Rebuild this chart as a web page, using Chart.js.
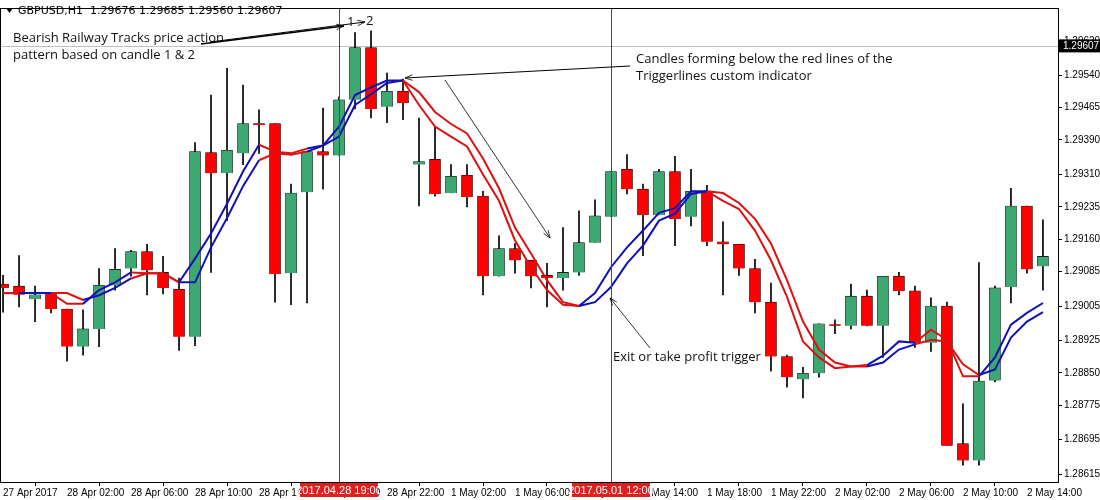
<!DOCTYPE html>
<html>
<head>
<meta charset="utf-8">
<script src="https://cdn.jsdelivr.net/npm/chart.js@4/dist/chart.umd.min.js"></script>
<style>
  html,body{margin:0;padding:0;background:#fff;}
  #wrap{width:1100px;height:500px;position:relative;}
</style>
</head>
<body>
<div id="wrap"><canvas id="chart" width="1100" height="500"></canvas></div>
<script>
// ==== Data (GBPUSD H1) ====
const times = ['27 Apr 2017','27 Apr 23:00','28 Apr 00:00','28 Apr 01:00','28 Apr 02:00','28 Apr 03:00','28 Apr 04:00','28 Apr 05:00',
  '28 Apr 06:00','28 Apr 07:00','28 Apr 08:00','28 Apr 09:00','28 Apr 10:00','28 Apr 11:00','28 Apr 12:00','28 Apr 13:00',
  '28 Apr 14:00','28 Apr 15:00','28 Apr 16:00','28 Apr 17:00','28 Apr 18:00','28 Apr 19:00','28 Apr 20:00','28 Apr 21:00',
  '28 Apr 22:00','28 Apr 23:00','1 May 00:00','1 May 01:00','1 May 02:00','1 May 03:00','1 May 04:00','1 May 05:00',
  '1 May 06:00','1 May 07:00','1 May 08:00','1 May 09:00','1 May 10:00','1 May 11:00','1 May 12:00','1 May 13:00',
  '1 May 14:00','1 May 15:00','1 May 16:00','1 May 17:00','1 May 18:00','1 May 19:00','1 May 20:00','1 May 21:00',
  '1 May 22:00','1 May 23:00','2 May 00:00','2 May 01:00','2 May 02:00','2 May 03:00','2 May 04:00','2 May 05:00',
  '2 May 06:00','2 May 07:00','2 May 08:00','2 May 09:00','2 May 10:00','2 May 11:00','2 May 12:00','2 May 13:00',
  '2 May 14:00','2 May 15:00'];

const opens = [1.29056,1.29051,1.29021,1.29035,1.28998,1.28911,1.28952,1.29053,1.29092,1.29131,1.29083,1.29044,1.28934,1.29361,1.29313,1.29359,
  1.29428,1.29428,1.29081,1.29269,1.29363,1.29354,1.29483,1.29604,1.29467,1.29503,1.29333,1.29345,1.29267,1.29308,1.29260,1.29074,
  1.29138,1.29111,1.29076,1.29070,1.29083,1.29152,1.29212,1.29322,1.29276,1.29216,1.29317,1.29212,1.29271,1.29154,1.29148,1.29092,
  1.29014,1.28888,1.28835,1.28849,1.28962,1.28959,1.29028,1.28959,1.29074,1.29040,1.28920,1.29005,1.28686,1.28647,1.28833,1.29049,
  1.29237,1.29097];
const highs = [1.29076,1.29122,1.29051,1.29035,1.28998,1.28996,1.29092,1.29138,1.29134,1.29148,1.29120,1.29070,1.29384,1.29494,1.29556,1.29517,
  1.29460,1.29428,1.29288,1.29363,1.29464,1.29490,1.29639,1.29643,1.29545,1.29531,1.29441,1.29421,1.29333,1.29333,1.29271,1.29168,
  1.29150,1.29111,1.29104,1.29187,1.29226,1.29251,1.29317,1.29356,1.29288,1.29322,1.29352,1.29322,1.29285,1.29200,1.29148,1.29113,
  1.29058,1.28891,1.28863,1.28964,1.28973,1.29056,1.29042,1.29074,1.29083,1.29051,1.29024,1.29014,1.28778,1.29106,1.29051,1.29278,
  1.29237,1.29205];
const lows = [1.28991,1.29003,1.28969,1.28989,1.28877,1.28891,1.28911,1.29042,1.29074,1.29031,1.29033,1.28902,1.28913,1.29083,1.29203,1.29333,
  1.29359,1.29014,1.29008,1.29012,1.29276,1.29354,1.29462,1.29441,1.29430,1.29437,1.29237,1.29260,1.29267,1.29235,1.29031,1.29074,
  1.29081,1.29047,1.29003,1.29042,1.29076,1.29152,1.29212,1.29265,1.29122,1.29216,1.29145,1.29191,1.29145,1.29031,1.29076,1.28989,
  1.28854,1.28817,1.28792,1.28840,1.28941,1.28952,1.28959,1.28886,1.29031,1.28909,1.28900,1.28682,1.28636,1.28636,1.28829,1.29012,
  1.29081,1.29042];
const closes = [1.29047,1.29031,1.29031,1.28998,1.28911,1.28952,1.29053,1.29090,1.29131,1.29088,1.29047,1.28934,1.29363,1.29313,1.29366,1.29428,
  1.29425,1.29079,1.29267,1.29363,1.29354,1.29483,1.29604,1.29462,1.29503,1.29476,1.29340,1.29265,1.29306,1.29258,1.29074,1.29138,
  1.29111,1.29074,1.29070,1.29083,1.29152,1.29214,1.29317,1.29276,1.29216,1.29317,1.29207,1.29271,1.29154,1.29148,1.29092,1.29014,
  1.28888,1.28840,1.28849,1.28964,1.28959,1.29028,1.28959,1.29074,1.29040,1.28920,1.29005,1.28682,1.28647,1.28831,1.29047,1.29237,
  1.29090,1.29120];

// Triggerlines indicator (fast / slow) and trend state per bar
const trigFast = [1.29035,1.29035,1.29035,1.29035,1.29010,1.29010,1.29042,1.29060,1.29083,1.29081,1.29081,1.29060,1.29115,1.29173,1.29242,1.29317,
  1.29379,1.29363,1.29359,1.29370,1.29377,1.29421,1.29494,1.29512,1.29528,1.29528,1.29471,1.29421,1.29398,1.29375,1.29310,1.29249,
  1.29157,1.29095,1.29042,1.29008,1.29005,1.29035,1.29095,1.29141,1.29180,1.29221,1.29232,1.29271,1.29271,1.29249,1.29230,1.29180,
  1.29111,1.29026,1.28923,1.28886,1.28861,1.28865,1.28868,1.28890,1.28923,1.28920,1.28950,1.28927,1.28842,1.28842,1.28886,1.28962,
  1.28989,1.29012];
const trigSlow = [1.29035,1.29035,1.29035,1.29035,1.29035,1.29019,1.29030,1.29047,1.29069,1.29081,1.29081,1.29060,1.29060,1.29141,1.29209,1.29283,
  1.29343,1.29359,1.29356,1.29363,1.29377,1.29398,1.29471,1.29496,1.29522,1.29528,1.29501,1.29455,1.29427,1.29405,1.29347,1.29278,
  1.29187,1.29127,1.29065,1.29014,1.29005,1.29014,1.29049,1.29104,1.29145,1.29203,1.29219,1.29265,1.29271,1.29267,1.29244,1.29207,
  1.29150,1.29065,1.28969,1.28904,1.28874,1.28865,1.28865,1.28874,1.28904,1.28916,1.28927,1.28923,1.28870,1.28845,1.28858,1.28932,
  1.28969,1.28991];
const trend = 'dduudduuudddu uuuudddu uuuuuddddddddddduuuuuuuudddddddddduuudddduuuu'.replace(/ /g,'');

const priceTicks = [1.29620,1.29540,1.29465,1.29390,1.29310,1.29235,1.29160,1.29085,1.29005,1.28925,1.28850,1.28775,1.28695,1.28615];
const lastPrice = 1.29607;
const markers = [21, 38];
const markerLabels = ['2017.04.28 19:00', '2017.05.01 12:00'];

const GREEN = '#3ea872', RED = '#ff0000', BLUE = '#1010b8', LRED = '#e01010';
const AXFONT = '"Liberation Sans", Arial, sans-serif';

const bodies = opens.map((o,i)=>({x:i, y:[o, closes[i]===o ? o+0.00002 : closes[i]]}));
const wicks = opens.map((o,i)=>({x:i, y:[lows[i], highs[i]]}));
const bodyCol = opens.map((o,i)=> closes[i] >= o ? GREEN : RED);
const segCol = ctx => trend[ctx.p1DataIndex] === 'u' ? BLUE : LRED;

// ==== overlay plugin: header, markers, annotations ====
const overlay = {
  id:'overlay',
  beforeDatasetsDraw(chart){
    const {ctx, chartArea:a, scales:{y}} = chart;
    ctx.save();
    const ly = y.getPixelForValue(lastPrice);
    ctx.strokeStyle = '#c0c0c0'; ctx.lineWidth = 1;
    ctx.beginPath(); ctx.moveTo(a.left, Math.round(ly)+0.5); ctx.lineTo(a.right, Math.round(ly)+0.5); ctx.stroke();
    ctx.restore();
  },
  afterDraw(chart){
    const {ctx, chartArea:a, scales:{x,y}} = chart;
    ctx.save();
    ctx.strokeStyle = '#000'; ctx.lineWidth = 1;
    ctx.strokeRect(a.left+0.5, a.top+0.5, a.right-a.left, a.bottom-a.top);
    // red vertical markers
    ctx.fillStyle = '#ff0000';
    markers.forEach(m => {
      const px = Math.round(x.getPixelForValue(m));
      ctx.fillRect(px, a.top+1, 1, a.bottom-a.top-1);
    });
    // marker labels on time axis
    ctx.font = '11px ' + AXFONT; ctx.textBaseline = 'middle'; ctx.textAlign = 'center';
    markers.forEach((m,k) => {
      const px = x.getPixelForValue(m);
      ctx.fillStyle = '#e02020'; ctx.fillRect(px-39, a.bottom+1, 78, 14);
      ctx.fillStyle = '#fff'; ctx.fillText(markerLabels[k], px, a.bottom+8.5);
    });
    // last price box
    const ly = y.getPixelForValue(lastPrice);
    ctx.font = '10px ' + AXFONT;
    ctx.fillStyle = '#000'; ctx.fillRect(a.right+1, ly-7, 41, 13);
    ctx.fillStyle = '#fff'; ctx.textAlign = 'left'; ctx.fillText(lastPrice.toFixed(5), a.right+5, ly);
    // header
    ctx.fillStyle = '#000'; ctx.font = '11px "DejaVu Sans"';
    ctx.beginPath(); ctx.moveTo(6,8); ctx.lineTo(13,8); ctx.lineTo(9.5,13); ctx.fill();
    ctx.fillText('GBPUSD,H1  1.29676 1.29685 1.29560 1.29607', 18, 11);
    // annotation texts
    ctx.font = '13px "Open Sans"'; ctx.fillStyle = '#111';
    ctx.fillText('Bearish Railway Tracks price action', 13, 38);
    ctx.fillText('pattern based on candle 1 & 2', 13, 55);
    ctx.fillText('Candles forming below the red lines of the', 636, 59);
    ctx.fillText('Triggerlines custom indicator', 636, 76);
    ctx.fillText('Exit or take profit trigger', 613, 357);
    ctx.fillText('1', 347, 22); ctx.fillText('2', 366, 21);
    // arrows
    const arrow = (x1,y1,x2,y2,w) => {
      ctx.lineWidth = w; ctx.strokeStyle = '#000';
      ctx.beginPath(); ctx.moveTo(x1,y1); ctx.lineTo(x2,y2); ctx.stroke();
      const ang = Math.atan2(y2-y1, x2-x1), h = 8;
      ctx.lineWidth = 0.8;
      ctx.beginPath();
      ctx.moveTo(x2 - h*Math.cos(ang-0.35), y2 - h*Math.sin(ang-0.35));
      ctx.lineTo(x2,y2);
      ctx.lineTo(x2 - h*Math.cos(ang+0.35), y2 - h*Math.sin(ang+0.35));
      ctx.stroke();
    };
    arrow(201,44,344,26,1.3);
    arrow(210,42,365,22,1);
    arrow(630,66,405,78,1);
    arrow(445,80,550,238,0.8);
    arrow(650,348,610,298,0.8);
    ctx.restore();
  }
};

new Chart(document.getElementById('chart'), {
  type:'bar',
  data:{
    datasets:[
      { type:'line', data:trigSlow.map((v,i)=>({x:i,y:v})), borderColor:LRED, borderWidth:2, pointRadius:0, segment:{borderColor:segCol}, order:3 },
      { type:'line', data:trigFast.map((v,i)=>({x:i,y:v})), borderColor:LRED, borderWidth:2, pointRadius:0, segment:{borderColor:segCol}, order:2 },
      { data:wicks, backgroundColor:'#000', barThickness:1, grouped:false, order:5 },
      { data:bodies, backgroundColor:bodyCol, borderColor:'#000', borderWidth:0.6, barThickness:11, grouped:false, order:4 }
    ]
  },
  options:{
    animation:false, responsive:false,
    layout:{ padding:{ left:0, top:5, right:0, bottom:0 } },
    plugins:{ legend:{display:false}, tooltip:{enabled:false} },
    scales:{
      x:{
        type:'linear', min:-0.19, max:65.94, offset:false,
        grid:{ drawOnChartArea:false, tickLength:4, color:'#000' },
        border:{ color:'#000' },
        afterBuildTicks: s => { s.ticks = []; for(let i=0;i<times.length;i+=4) s.ticks.push({value:i}); },
        ticks:{ autoSkip:false, maxRotation:0, color:'#000', font:{size:10, family:AXFONT}, padding:1,
          align:'start', callback:(v)=> times[v] }
      },
      y:{
        position:'right', min:1.28597, max:1.29696,
        grid:{ drawOnChartArea:false, tickLength:4, color:'#000' },
        border:{ color:'#000' },
        afterBuildTicks: s => { s.ticks = priceTicks.map(v=>({value:v})); },
        afterFit: s => { s.width = 42; },
        ticks:{ color:'#000', font:{size:10, family:AXFONT}, padding:2, callback:v=>v.toFixed(5) }
      }
    }
  },
  plugins:[overlay]
});
</script>
</body>
</html>
